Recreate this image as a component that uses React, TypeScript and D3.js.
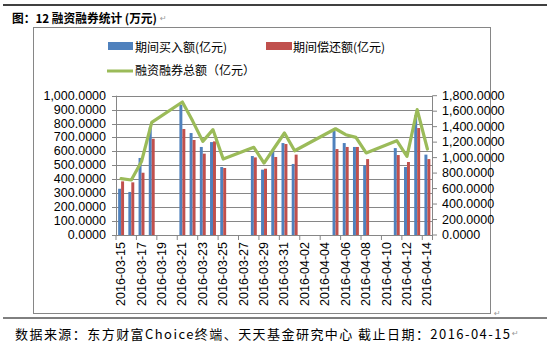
import React from "react";
import * as d3 from "d3";

const categories = [
  "2016-03-15","2016-03-16","2016-03-17","2016-03-18","2016-03-19","2016-03-20","2016-03-21",
  "2016-03-22","2016-03-23","2016-03-24","2016-03-25","2016-03-26","2016-03-27","2016-03-28",
  "2016-03-29","2016-03-30","2016-03-31","2016-04-01","2016-04-02","2016-04-03","2016-04-04",
  "2016-04-05","2016-04-06","2016-04-07","2016-04-08","2016-04-09","2016-04-10","2016-04-11",
  "2016-04-12","2016-04-13","2016-04-14",
];
const buyValues: (number | null)[] = [
  332, 309, 553, 773, null, null, 935, 732, 632, 667, 488, null, null, 567, 469, 600, 660, 510,
  null, null, null, 749, 660, 632, 500, null, null, 624, 488, 860, 577,
];
const repayValues: (number | null)[] = [
  385, 378, 447, 691, null, null, 761, 682, 584, 672, 481, null, null, 557, 476, 560, 653, 577,
  null, null, null, 617, 632, 632, 545, null, null, 574, 524, 768, 545,
];
const totalValues: (number | null)[] = [
  728, 711, 950, 1455, null, null, 1719, 1475, 1210, 1361, 982, null, null, 1133, 930, 1124, 1318, 1089,
  null, null, null, 1373, 1296, 1262, 1060, null, null, 1219, 1016, 1620, 1111,
];
const leftTicks = [0, 100, 200, 300, 400, 500, 600, 700, 800, 900, 1000];
const rightTicks = [0, 200, 400, 600, 800, 1000, 1200, 1400, 1600, 1800];
const legendNames = ["期间买入额(亿元)", "期间偿还额(亿元)", "融资融券总额（亿元）"];
const titleText = "图：12 融资融券统计 (万元)";
const footerText = "数据来源：东方财富Choice终端、天天基金研究中心  截止日期：2016-04-15";

const BLUE = "#4F81BD";
const RED = "#C0504D";
const GREEN = "#9BBB59";
const GRID = "#868686";

export default function App() {
  const x0 = 116, x1 = 432.5, yTop = 95.7, yBot = 235;
  const x = d3.scaleBand<string>().domain(categories).range([x0, x1]).paddingInner(0).paddingOuter(0);
  const yL = d3.scaleLinear().domain([0, 1000]).range([yBot, yTop]);
  const yR = d3.scaleLinear().domain([0, 1800]).range([yBot, yTop]);
  const bw = x.bandwidth();
  const barW = bw * 0.29;

  const pts = categories
    .map((c, i) => ({ c, v: totalValues[i] }))
    .filter((d) => d.v != null) as { c: string; v: number }[];
  const line = d3
    .line<{ c: string; v: number }>()
    .x((d) => (x(d.c) as number) + bw / 2)
    .y((d) => yR(d.v));

  const tickIdx = categories.map((_, i) => i).filter((i) => i % 2 === 0);
  const num = d3.format(",.4f");
  const axisFont = "'Liberation Sans', Arial, sans-serif";
  const cjk = "'Noto Sans CJK SC', sans-serif";

  return (
    <svg width={547} height={345} style={{ position: "absolute", left: 0, top: 0 }}>
      <rect x={0} y={0} width={547} height={345} fill="#fff" />
      <line x1={3} x2={547} y1={5} y2={5} stroke="#000" strokeWidth={1.3} />
      <text x={12} y={17} fontFamily={cjk} fontSize={12} fontWeight="bold" dominantBaseline="central"
        textLength={145} lengthAdjust="spacingAndGlyphs">
        {titleText}
      </text>
      <text x={160} y={18} fontFamily="'DejaVu Sans'" fontSize={8} fill="#999" dominantBaseline="central">↵</text>

      <rect x={33.5} y={27.5} width={457} height={286} fill="#fff" stroke={GRID} strokeWidth={1} />

      {/* legend */}
      <rect x={108} y={42} width={25} height={8} fill={BLUE} />
      <text x={135} y={46} fontFamily={cjk} fontSize={12} dominantBaseline="central">{legendNames[0]}</text>
      <rect x={266} y={42} width={26} height={8} fill={RED} />
      <text x={293} y={46} fontFamily={cjk} fontSize={12} dominantBaseline="central">{legendNames[1]}</text>
      <line x1={107} x2={133} y1={71} y2={71} stroke={GREEN} strokeWidth={3} />
      <text x={135} y={69} fontFamily={cjk} fontSize={12} dominantBaseline="central">{legendNames[2]}</text>

      {/* gridlines */}
      {leftTicks.map((t) => (
        <g key={"g" + t}>
          <line x1={x0 - 4} x2={x1} y1={Math.round(yL(t)) + 0.5} y2={Math.round(yL(t)) + 0.5} stroke={GRID} strokeWidth={1} />
          <text x={106} y={yL(t)} textAnchor="end" dominantBaseline="central" fontFamily={axisFont} fontSize={12.5}>
            {num(t)}
          </text>
        </g>
      ))}
      <line x1={x0 + 0.5} x2={x0 + 0.5} y1={yTop} y2={yBot} stroke={GRID} />
      <line x1={x1} x2={x1} y1={yTop} y2={yBot} stroke={GRID} />
      {rightTicks.map((t) => (
        <g key={"r" + t}>
          <line x1={x1} x2={x1 + 4.5} y1={yR(t)} y2={yR(t)} stroke={GRID} />
          <text x={442} y={yR(t)} dominantBaseline="central" fontFamily={axisFont} fontSize={12.5}>
            {num(t)}
          </text>
        </g>
      ))}

      {/* bars */}
      {categories.map((c, i) =>
        buyValues[i] == null ? null : (
          <g key={"b" + c}>
            <rect x={(x(c) as number) + bw / 2 - barW} y={yL(buyValues[i] as number)} width={barW}
              height={yBot - yL(buyValues[i] as number)} fill={BLUE} />
            <rect x={(x(c) as number) + bw / 2} y={yL(repayValues[i] as number)} width={barW}
              height={yBot - yL(repayValues[i] as number)} fill={RED} />
          </g>
        )
      )}

      {/* x axis */}
      <line x1={x0} x2={x1} y1={yBot + 0.5} y2={yBot + 0.5} stroke={GRID} />
      {[...tickIdx.map((i) => x(categories[i]) as number), x1].map((p, k) => (
        <line key={"t" + k} x1={p} x2={p} y1={yBot} y2={yBot + 5} stroke={GRID} />
      ))}
      {tickIdx.map((i) => {
        const cx = (x(categories[i]) as number) + bw / 2;
        return (
          <text key={"xl" + i} transform={`translate(${cx},${yBot + 7}) rotate(-90)`} textAnchor="end"
            dominantBaseline="central" fontFamily={axisFont} fontSize={12.5}>
            {categories[i]}
          </text>
        );
      })}

      {/* line */}
      <path d={line(pts) as string} fill="none" stroke={GREEN} strokeWidth={3.2} strokeLinejoin="round" strokeLinecap="round" />

      <text x={494} y={313} fontFamily="'DejaVu Sans'" fontSize={8} fill="#999" dominantBaseline="central">↵</text>
      <line x1={3} x2={547} y1={318} y2={318} stroke="#000" strokeWidth={1} />
      <text x={15} y={333} fontFamily={cjk} fontSize={13} dominantBaseline="central" textLength={495} lengthAdjust="spacing">
        {footerText}
      </text>
      <text x={512} y={333} fontFamily="'DejaVu Sans'" fontSize={8} fill="#999" dominantBaseline="central">↵</text>
    </svg>
  );
}
